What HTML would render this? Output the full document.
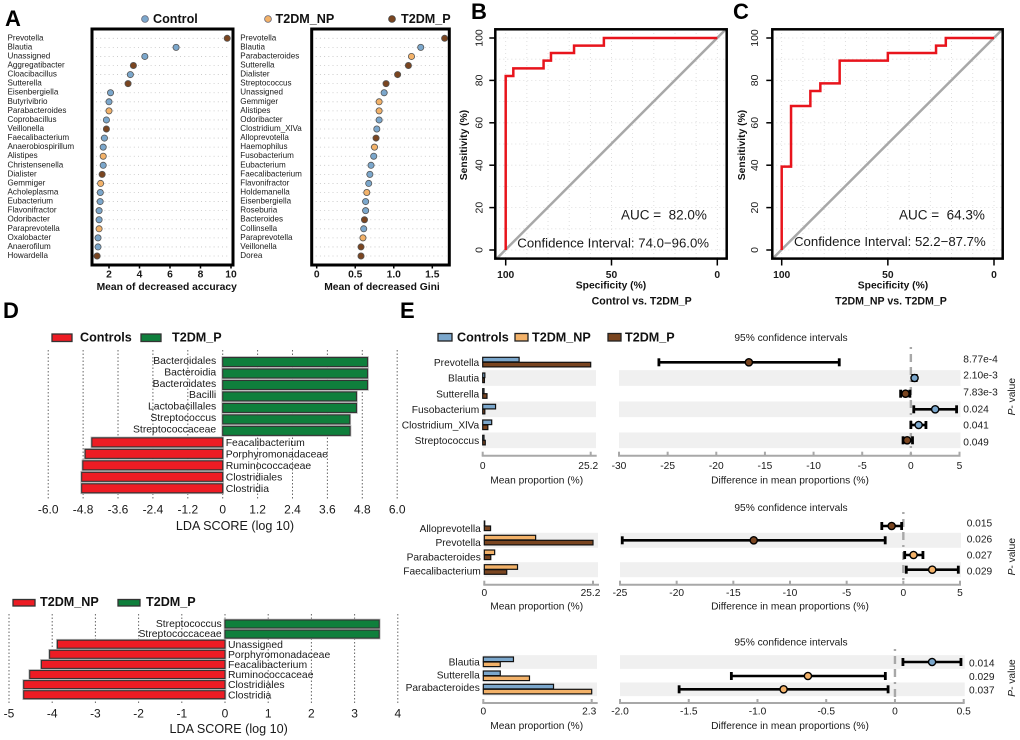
<!DOCTYPE html>
<html lang="en">
<head>
<meta charset="utf-8">
<title>Microbiome classification and differential abundance figure</title>
<style>
html,body{margin:0;padding:0;background:#fff;width:1020px;height:740px;overflow:hidden}
svg{display:block;filter:blur(0.3px)}
text{font-family:"Liberation Sans",Arial,sans-serif;fill:#1a1a1a}
.letter{font-size:22px;font-weight:bold;fill:#000}
.leg{font-size:12.6px;font-weight:bold;fill:#111}
.bt{font-size:10.3px;font-weight:bold;fill:#111}
.sm{font-size:10.2px;fill:#222}
</style>
</head>
<body>
<svg id="fig" xmlns="http://www.w3.org/2000/svg" width="1020" height="740" viewBox="0 0 1020 740">
  <rect x="0" y="0" width="1020" height="740" fill="#fff"/>
  <text class="letter" x="5" y="26">A</text>
  <text class="letter" x="471" y="19">B</text>
  <text class="letter" x="733" y="19">C</text>
  <text class="letter" x="3" y="318">D</text>
  <text class="letter" x="400" y="318">E</text>

  <g id="panel-a">
    <circle cx="145" cy="19" r="3.4" fill="#7ba7cc" stroke="#667" stroke-width="0.8"/>
    <text class="leg" x="153" y="23">Control</text>
    <circle cx="268" cy="19" r="3.4" fill="#f3b269" stroke="#667" stroke-width="0.8"/>
    <text class="leg" x="275.5" y="23">T2DM_NP</text>
    <circle cx="392" cy="19" r="3.4" fill="#7a4520" stroke="#444" stroke-width="0.8"/>
    <text class="leg" x="401" y="23">T2DM_P</text>
    <text class="bt" x="166.7" y="290" text-anchor="middle">Mean of decreased accuracy</text>
    <text class="bt" x="382" y="290" text-anchor="middle">Mean of decreased Gini</text>
  </g>

  <g id="panel-b">
    <text class="bt" transform="translate(467 145) rotate(-90)" text-anchor="middle">Sensitivity (%)</text>
    <text class="bt" x="611" y="288.5" text-anchor="middle">Specificity (%)</text>
    <text class="bt" style="font-size:10.6px" x="641.7" y="304.5" text-anchor="middle">Control vs. T2DM_P</text>
  </g>
  <g id="panel-c">
    <text class="bt" transform="translate(745 145) rotate(-90)" text-anchor="middle">Sensitivity (%)</text>
    <text class="bt" x="893" y="288.5" text-anchor="middle">Specificity (%)</text>
    <text class="bt" style="font-size:10.6px" x="891" y="304.5" text-anchor="middle">T2DM_NP vs. T2DM_P</text>
  </g>

  <g id="panel-d1">
    <rect x="52" y="334" width="20" height="7.5" fill="#ed1c24" stroke="#333" stroke-width="1.3"/>
    <text class="leg" x="80" y="341.5">Controls</text>
    <rect x="141" y="334" width="20" height="7.5" fill="#0f7f3c" stroke="#333" stroke-width="1.3"/>
    <text class="leg" x="172" y="341.5">T2DM_P</text>
    <text style="font-size:12.6px" x="235" y="530" text-anchor="middle">LDA SCORE (log 10)</text>
  </g>
  <g id="panel-d2">
    <rect x="13" y="599.5" width="22" height="6.5" fill="#ed1c24" stroke="#333" stroke-width="1.3"/>
    <text class="leg" x="40" y="606">T2DM_NP</text>
    <rect x="118" y="599.5" width="22" height="6.5" fill="#0f7f3c" stroke="#333" stroke-width="1.3"/>
    <text class="leg" x="146" y="606">T2DM_P</text>
    <text style="font-size:12.6px" x="228.7" y="733" text-anchor="middle">LDA SCORE (log 10)</text>
  </g>

  <g id="panel-e">
    <rect x="438" y="333.5" width="14" height="7.5" fill="#7ba7cc" stroke="#222" stroke-width="1.3"/>
    <text class="leg" x="457" y="341.5">Controls</text>
    <rect x="515" y="333.5" width="13" height="7.5" fill="#f3b269" stroke="#222" stroke-width="1.3"/>
    <text class="leg" x="532" y="341.5">T2DM_NP</text>
    <rect x="608" y="333.5" width="13" height="7.5" fill="#7a4520" stroke="#222" stroke-width="1.3"/>
    <text class="leg" x="625" y="341.5">T2DM_P</text>
  </g>
</svg>

<script>
/* ---------- Panel A data ---------- */
const accuracyGenera = ["Prevotella","Blautia","Unassigned","Aggregatibacter","Cloacibacillus","Sutterella","Eisenbergiella","Butyrivibrio","Parabacteroides","Coprobacillus","Veillonella","Faecalibacterium","Anaerobiospirillum","Alistipes","Christensenella","Dialister","Gemmiger","Acholeplasma","Eubacterium","Flavonifractor","Odoribacter","Paraprevotella","Oxalobacter","Anaerofilum","Howardella"];
const accuracyValues = [9.75,6.4,4.35,3.6,3.4,3.25,2.1,2.0,2.0,1.83,1.83,1.7,1.62,1.62,1.62,1.55,1.45,1.43,1.42,1.35,1.35,1.35,1.28,1.28,1.22];
const accuracyGroups = ["P","C","C","P","C","P","C","C","N","C","P","C","C","N","C","P","N","C","C","C","C","N","C","C","P"];
const accuracyTicks = [2,4,6,8,10];

const giniGenera = ["Prevotella","Blautia","Parabacteroides","Sutterella","Dialister","Streptococcus","Unassigned","Gemmiger","Alistipes","Odoribacter","Clostridium_XlVa","Alloprevotella","Haemophilus","Fusobacterium","Eubacterium","Faecalibacterium","Flavonifractor","Holdemanella","Eisenbergiella","Roseburia","Bacteroides","Collinsella","Paraprevotella","Veillonella","Dorea"];
const giniValues = [1.66,1.35,1.23,1.19,1.05,0.9,0.875,0.81,0.81,0.81,0.78,0.77,0.75,0.74,0.705,0.69,0.675,0.65,0.635,0.635,0.62,0.61,0.6,0.575,0.575];
const giniGroups = ["P","C","N","P","P","P","C","N","N","C","C","P","N","C","C","C","C","N","C","C","P","C","N","P","P"];
const giniTicks = [0,0.5,1.0,1.5];
const giniTickLabels = ["0","0.5","1.0","1.5"];

/* ---------- Panels B, C data ---------- */
const rocBSpecificity = [100,100,96.4,96.4,82.1,82.1,78.6,78.6,67.7,67.7,53.6,53.6,0];
const rocBSensitivity = [0,82.1,82.1,85.7,85.7,89.3,89.3,92.9,92.9,96.4,96.4,100,100];
const rocCSpecificity = [100,100,95.6,95.6,86.5,86.5,81.8,81.8,72.7,72.7,50,50,27.3,27.3,22.7,22.7,0];
const rocCSensitivity = [0,39.3,39.3,67.9,67.9,75,75,78.6,78.6,89.3,89.3,92.9,92.9,96.4,96.4,100,100];
const rocXTicks = [100,50,0];
const rocYTicks = [0,20,40,60,80,100];
const rocBAuc = "AUC =\u00a0 82.0%";
const rocBCi = "Confidence Interval: 74.0\u221296.0%";
const rocCAuc = "AUC =\u00a0 64.3%";
const rocCCi = "Confidence Interval: 52.2\u221287.7%";

/* ---------- Panel D data ---------- */
const ldaTopLabels = ["Bacteroidales","Bacteroidia","Bacteroidates","Bacilli","Lactobacillales","Streptococcus","Streptococcaceae","Feacalibacterium","Porphyromonadaceae","Ruminococcaceae","Clostridiales","Clostridia"];
const ldaTopValues = [4.98,4.98,4.98,4.6,4.6,4.37,4.38,-4.5,-4.73,-4.81,-4.85,-4.85];
const ldaTopTicks = [-6,-4.8,-3.6,-2.4,-1.2,0,1.2,2.4,3.6,4.8,6];
const ldaTopTickLabels = ["-6.0","-4.8","-3.6","-2.4","-1.2","0","1.2","2.4","3.6","4.8","6.0"];

const ldaBottomLabels = ["Streptococcus","Streptococcaceae","Unassigned","Porphyromonadaceae","Feacalibacterium","Ruminococcaceae","Clostridiales","Clostridia"];
const ldaBottomValues = [3.57,3.57,-3.88,-4.06,-4.25,-4.52,-4.66,-4.66];
const ldaBottomTicks = [-5,-4,-3,-2,-1,0,1,2,3,4];
const ldaBottomTickLabels = ["-5","-4","-3","-2","-1","0","1","2","3","4"];

/* ---------- Panel E data ---------- */
const e1Genera = ["Prevotella","Blautia","Sutterella","Fusobacterium","Clostridium_XlVa","Streptococcus"];
const e1First = [8.5,0.5,0.3,3.0,2.1,0.3];
const e1Second = [25.2,0.4,1.0,0.5,1.2,0.6];
const e1Mean = [-16.65,0.38,-0.55,2.5,0.8,-0.38];
const e1Low = [-25.9,0.2,-1.05,0.3,0,-0.8];
const e1High = [-7.36,0.55,-0.1,4.7,1.55,0.17];
const e1Group = ["P","C","P","C","C","P"];
const e1PValues = ["8.77e-4","2.10e-3","7.83e-3","0.024","0.041","0.049"];
const e1DiffTicks = [-30,-25,-20,-15,-10,-5,0,5];
const e1DiffLabels = ["-30","-25","-20","-15","-10","-5","0","5"];
const e1PropTicks = [0,25.2];

const e2Genera = ["Alloprevotella","Prevotella","Parabacteroides","Faecalibacterium"];
const e2First = [0.1,11.9,2.4,7.7];
const e2Second = [1.45,25.2,1.5,5.2];
const e2Mean = [-1.03,-13.2,0.9,2.55];
const e2Low = [-1.9,-24.8,0.12,0.26];
const e2High = [-0.15,-1.6,1.73,4.85];
const e2Group = ["P","P","N","N"];
const e2PValues = ["0.015","0.026","0.027","0.029"];
const e2DiffTicks = [-25,-20,-15,-10,-5,0,5];
const e2DiffLabels = ["-25","-20","-15","-10","-5","0","5"];
const e2PropTicks = [0,25.2];

const e3Genera = ["Blautia","Sutterella","Parabacteroides"];
const e3First = [0.64,0.36,1.49];
const e3Second = [0.36,0.98,2.3];
const e3Mean = [0.27,-0.633,-0.81];
const e3Low = [0.058,-1.19,-1.57];
const e3High = [0.48,-0.07,-0.05];
const e3Group = ["C","N","N"];
const e3PValues = ["0.014","0.029","0.037"];
const e3DiffTicks = [-2,-1.5,-1,-0.5,0,0.5];
const e3DiffLabels = ["-2.0","-1.5","-1.0","-0.5","0","0.5"];
const e3PropTicks = [0,2.3];

/* ---------- Helpers ---------- */
const NS = "http://www.w3.org/2000/svg";
const palette = { C: "#7ba7cc", N: "#f3b269", P: "#7a4520" };
const firstColors = { e1: "#7ba7cc", e2: "#f3b269", e3: "#7ba7cc" };
const secondColors = { e1: "#7a4520", e2: "#7a4520", e3: "#f3b269" };

function mk(parent, tag, attrs, txt) {
  const el = document.createElementNS(NS, tag);
  for (const k in attrs) el.setAttribute(k, attrs[k]);
  if (txt !== undefined) el.textContent = txt;
  parent.appendChild(el);
  return el;
}
function linear(d0, d1, r0, r1) {
  return v => r0 + (v - d0) * (r1 - r0) / (d1 - d0);
}
function group(parent) {
  return mk(parent, "g", {});
}

/* ---------- Panel A ---------- */
function drawDotPlot(genera, values, groups, ticks, tickLabels, fr, labelX, xs) {
  const root = document.getElementById("panel-a");
  const g = group(root);
  
  
  const ys = linear(0, genera.length - 1, 38.3, 256);
  genera.forEach((name, i) => {
    const y = ys(i);
    const guide = mk(g, "line", { x1: fr.x0 + 4, x2: fr.x1 - 3, y1: y, y2: y, stroke: "#c4c4c4", "stroke-width": 0.8, "stroke-dasharray": "1 3.2" });
    
    
    const lab = mk(g, "text", { x: labelX, y: y + 2, "font-size": "8.1px", fill: "#222" }, name);
    
    
    const dot = mk(g, "circle", { cx: xs(values[i]), cy: y, r: 3.1, fill: palette[groups[i]], stroke: "#555", "stroke-width": 0.8 });
    
    
  });
  const frame = mk(g, "rect", { x: fr.x0, y: fr.y0, width: fr.x1 - fr.x0, height: fr.y1 - fr.y0, fill: "none", stroke: "#000", "stroke-width": 3 });
  
  
  ticks.forEach((t, i) => {
    const x = xs(t);
    const tk = mk(g, "line", { x1: x, x2: x, y1: fr.y1, y2: fr.y1 + 3.5, stroke: "#000", "stroke-width": 1.5 });
    
    
    const tl = mk(g, "text", { x: x, y: 277.5, "text-anchor": "middle", "font-size": "10.3px", "font-weight": "bold", fill: "#111" }, tickLabels[i]);
    
    
  });
}
drawDotPlot(accuracyGenera, accuracyValues, accuracyGroups, accuracyTicks, accuracyTicks.map(String),
  { x0: 92, x1: 233, y0: 29, y1: 265, name: "accuracy-dot-plot" }, 7.5, linear(2, 10, 109, 231));
drawDotPlot(giniGenera, giniValues, giniGroups, giniTicks, giniTickLabels,
  { x0: 311.7, x1: 449.3, y0: 29, y1: 265, name: "gini-dot-plot" }, 240.3, linear(0, 1.5, 316.7, 432.3));

/* ---------- Panels B, C ---------- */
function drawRoc(id, spec, sens, auc, ci, geo) {
  const root = document.getElementById(id);
  const xs = linear(100, 0, geo.x100, geo.x0v);
  const ys = linear(0, 100, 250, 38);
  for (let v = 0; v <= 100; v += 10) {
    const h = mk(root, "line", { x1: geo.fx0, x2: geo.fx1, y1: ys(v), y2: ys(v), stroke: "#d8d8d8", "stroke-width": 0.8, "stroke-dasharray": "1 3" });
    
    
    const w = mk(root, "line", { x1: xs(v), x2: xs(v), y1: 29, y2: 258, stroke: "#d8d8d8", "stroke-width": 0.8, "stroke-dasharray": "1 3" });
    
    
  }
  const diag = mk(root, "line", { x1: xs(104.3), y1: ys(-4.1), x2: xs(-4.1), y2: ys(104.2), stroke: "#a8a8a8", "stroke-width": 2.5 });
  
  
  const path = mk(root, "polyline", { points: spec.map((s, i) => xs(s) + "," + ys(sens[i])).join(" "), fill: "none", stroke: "#e8141c", "stroke-width": 2.5 });
  
  
  const frame = mk(root, "rect", { x: geo.fx0, y: 29.3, width: geo.fx1 - geo.fx0, height: 229.3, fill: "none", stroke: "#000", "stroke-width": 2.5 });
  
  
  rocXTicks.forEach(t => {
    const tk = mk(root, "line", { x1: xs(t), x2: xs(t), y1: 258.7, y2: 265.5, stroke: "#000", "stroke-width": 1.5 });
    
    
    const tl = mk(root, "text", { x: xs(t), y: 278, "text-anchor": "middle", "font-size": "10.3px", "font-weight": "bold", fill: "#111" }, String(t));
    
    
  });
  rocYTicks.forEach(t => {
    const tk = mk(root, "line", { x1: geo.fx0 - 6, x2: geo.fx0, y1: ys(t), y2: ys(t), stroke: "#000", "stroke-width": 1.5 });
    
    
    const tl = mk(root, "text", { transform: "translate(" + geo.ylabX + " " + ys(t) + ") rotate(-90)", "text-anchor": "middle", "font-size": "10.5px", fill: "#111" }, String(t));
    
    
  });
  const a = mk(root, "text", { x: geo.aucX, y: 219.5, "font-size": "13.5px", fill: "#222" }, auc);
  
  
  const c = mk(root, "text", { x: geo.ciX, y: geo.ciY, "font-size": "13.2px", fill: "#222" }, ci);
  
  
}
drawRoc("panel-b", rocBSpecificity, rocBSensitivity, rocBAuc, rocBCi,
  { x100: 505.7, x0v: 717.3, fx0: 495.3, fx1: 726.7, ylabX: 482.7, aucX: 621, ciX: 517.3, ciY: 247.5 });
drawRoc("panel-c", rocCSpecificity, rocCSensitivity, rocCAuc, rocCCi,
  { x100: 781.7, x0v: 994, fx0: 772.3, fx1: 1002.7, ylabX: 758, aucX: 899, ciX: 794, ciY: 246 });

/* ---------- Panel D ---------- */
function drawLda(id, labels, values, ticks, tickLabels, geo) {
  const root = document.getElementById(id);
  const xs = linear(0, 1, geo.zero, geo.zero + geo.unit);
  const ys = linear(0, labels.length - 1, geo.firstY, geo.lastY);
  ticks.forEach((t, i) => {
    const gl = mk(root, "line", { x1: xs(t), x2: xs(t), y1: geo.top, y2: geo.bottom, stroke: "#666", "stroke-width": 1, "stroke-dasharray": "1.5 2" });
    
    
    const tl = mk(root, "text", { x: xs(t), y: geo.tickY, "text-anchor": "middle", "font-size": "12px", fill: "#1a1a1a" }, tickLabels[i]);
    
    
  });
  labels.forEach((name, i) => {
    const v = values[i];
    const y = ys(i);
    const x = v >= 0 ? xs(0) : xs(v);
    const w = Math.abs(xs(v) - xs(0));
    const halo = mk(root, "rect", { x: x - 0.8, y: y - geo.h / 2 - 0.8, width: w + 1.6, height: geo.h + 1.6, fill: "none", stroke: "#bbb", "stroke-width": 1 });
    
    
    const bar = mk(root, "rect", { x: x, y: y - geo.h / 2, width: w, height: geo.h, fill: v >= 0 ? "#0f7f3c" : "#ed1c24", stroke: "#333", "stroke-width": 1.1 });
    
    
    const lab = mk(root, "text", { x: v >= 0 ? xs(0) - geo.labGap : xs(0) + 3, y: y + (v >= 0 ? geo.labDyPos : geo.labDyNeg), "text-anchor": v >= 0 ? "end" : "start", "font-size": "10.4px", fill: "#222" }, name);
    
    
  });
}
drawLda("panel-d1", ldaTopLabels, ldaTopValues, ldaTopTicks, ldaTopTickLabels,
  { zero: 222.7, unit: 29.08, firstY: 362, lastY: 488.3, top: 350, bottom: 500, tickY: 513.5, h: 9, labGap: 6.5, labDyPos: 1.8, labDyNeg: 3.6 });
drawLda("panel-d2", ldaBottomLabels, ldaBottomValues, ldaBottomTicks, ldaBottomTickLabels,
  { zero: 225, unit: 43.2, firstY: 624, lastY: 694.7, top: 614, bottom: 704, tickY: 717.5, h: 8, labGap: 3.3, labDyPos: 3, labDyNeg: 3.6 });

/* ---------- Panel E ---------- */
function drawEBlock(key, genera, first, second, mean, low, high, grp, pvals, diffTicks, diffLabels, propTicks, geo) {
  const root = document.getElementById("panel-e");
  const g = group(root);
  
  
  const px = linear(0, propTicks[1], geo.p0, geo.p1);
  const dx = linear(diffTicks[0], diffTicks[diffTicks.length - 1], geo.d0, geo.d1);
  genera.forEach((name, i) => {
    const cy = geo.rows[i];
    if ((i % 2 === 1) === geo.bandOdd) {
      const b1 = mk(g, "rect", { x: geo.p0, y: cy - geo.band / 2, width: geo.bandP1 - geo.p0, height: geo.band, fill: "#f0f0f0" });
      
      
      const b2 = mk(g, "rect", { x: geo.d0, y: cy - geo.band / 2, width: geo.d1 - geo.d0 + 1, height: geo.band, fill: "#f0f0f0" });
      
      
    }
  });
  const zeroLine = mk(g, "line", { x1: dx(0), x2: dx(0), y1: geo.zeroTop, y2: geo.axisY, stroke: "#a8a8a8", "stroke-width": 2.4, "stroke-dasharray": "2 5 8 5 8 5" });
  
  
  genera.forEach((name, i) => {
    const cy = geo.rows[i];
    const lab = mk(g, "text", { x: geo.p0 - 3.5, y: geo.labels[i] + 3.6, "text-anchor": "end", "font-size": "10.2px", fill: "#222" }, name);
    
    
    const bA = mk(g, "rect", { x: px(0), y: cy - 5, width: px(first[i]) - px(0), height: 4.6, fill: firstColors[key], stroke: "#111", "stroke-width": 1.2 });
    
    
    const bB = mk(g, "rect", { x: px(0), y: cy, width: px(second[i]) - px(0), height: 4.6, fill: secondColors[key], stroke: "#111", "stroke-width": 1.2 });
    
    
    const ci = mk(g, "line", { x1: dx(low[i]), x2: dx(high[i]), y1: cy, y2: cy, stroke: "#000", "stroke-width": 2.6 });
    
    
    const capL = mk(g, "line", { x1: dx(low[i]), x2: dx(low[i]), y1: cy - 4, y2: cy + 4, stroke: "#000", "stroke-width": 2.8 });
    
    
    const capH = mk(g, "line", { x1: dx(high[i]), x2: dx(high[i]), y1: cy - 4, y2: cy + 4, stroke: "#000", "stroke-width": 2.8 });
    
    
    const dot = mk(g, "circle", { cx: dx(mean[i]), cy: cy, r: 3.6, fill: palette[grp[i]], stroke: "#000", "stroke-width": 1.4 });
    
    
    const pv = mk(g, "text", { x: geo.pX, y: geo.pY[i] + 3.6, "font-size": "10.2px", fill: "#222" }, pvals[i]);
    
    
  });
  const axA = mk(g, "line", { x1: geo.p0 - 1, x2: geo.p1 + 6, y1: geo.axisY, y2: geo.axisY, stroke: "#a8a8a8", "stroke-width": 2 });
  
  
  const axB = mk(g, "line", { x1: geo.d0 - 1, x2: geo.d1 + 1, y1: geo.axisY, y2: geo.axisY, stroke: "#a8a8a8", "stroke-width": 2 });
  
  
  propTicks.forEach((t, i) => {
    const tk = mk(g, "line", { x1: px(t), x2: px(t), y1: geo.axisY - 4, y2: geo.axisY, stroke: "#a8a8a8", "stroke-width": 2 });
    
    
    const tl = mk(g, "text", { x: i === 0 ? px(t) : px(t) - 2.5, y: geo.tickY, "text-anchor": "middle", "font-size": "10.2px", fill: "#222" }, String(t));
    
    
  });
  diffTicks.forEach((t, i) => {
    const tk = mk(g, "line", { x1: dx(t), x2: dx(t), y1: geo.axisY - 4, y2: geo.axisY, stroke: "#a8a8a8", "stroke-width": 2 });
    
    
    const tl = mk(g, "text", { x: dx(t), y: geo.tickY, "text-anchor": "middle", "font-size": "10.2px", fill: "#222" }, diffLabels[i]);
    
    
  });
  const t1 = mk(g, "text", { x: 536.7, y: geo.titleY, "text-anchor": "middle", "font-size": "10.2px", fill: "#222" }, "Mean proportion (%)");
  
  
  const t2 = mk(g, "text", { x: 790, y: geo.titleY, "text-anchor": "middle", "font-size": "10.2px", fill: "#222" }, "Difference in mean proportions (%)");
  
  
  const t3 = mk(g, "text", { x: 791, y: geo.ciTitleY, "text-anchor": "middle", "font-size": "10.2px", fill: "#222" }, "95% confidence intervals");
  
  
  const pt = mk(g, "text", { transform: "translate(1015 " + geo.pTitleY + ") rotate(-90)", "text-anchor": "middle", "font-size": "10.2px", fill: "#222" });
  
  
  const it = mk(pt, "tspan", { "font-style": "italic" }, "P");
  
  
  pt.appendChild(document.createTextNode("- value"));
}
drawEBlock("e1", e1Genera, e1First, e1Second, e1Mean, e1Low, e1High, e1Group, e1PValues, e1DiffTicks, e1DiffLabels, e1PropTicks,
  { p0: 482.7, p1: 590.7, bandP1: 596, d0: 619, d1: 959.5, axisY: 455.7, zeroTop: 347, band: 15.7, bandOdd: true,
    rows: [362.3, 378, 393.7, 409.3, 425, 440.3], labels: [362.3, 378, 393.7, 409.3, 425, 440.3],
    pX: 963.3, pY: [359, 375, 391.7, 408.7, 425, 441.7], tickY: 469, titleY: 483.5, ciTitleY: 341, pTitleY: 396.7 });
drawEBlock("e2", e2Genera, e2First, e2Second, e2Mean, e2Low, e2High, e2Group, e2PValues, e2DiffTicks, e2DiffLabels, e2PropTicks,
  { p0: 484.3, p1: 593, bandP1: 598, d0: 620, d1: 960, axisY: 584.7, zeroTop: 512, band: 15, bandOdd: true,
    rows: [526, 540.3, 555, 569.7], labels: [528.3, 542.3, 556.7, 571],
    pX: 966.7, pY: [522.7, 538.7, 554.7, 570.7], tickY: 596, titleY: 609.5, ciTitleY: 511, pTitleY: 556.7 });
drawEBlock("e3", e3Genera, e3First, e3Second, e3Mean, e3Low, e3High, e3Group, e3PValues, e3DiffTicks, e3DiffLabels, e3PropTicks,
  { p0: 483.3, p1: 591.7, bandP1: 597, d0: 620, d1: 963.7, axisY: 703, zeroTop: 649, band: 13.7, bandOdd: false,
    rows: [662, 676, 689.3], labels: [662, 674.7, 687.3],
    pX: 969, pY: [663, 676.3, 689.7], tickY: 714.5, titleY: 729, ciTitleY: 645.5, pTitleY: 678 });
</script>
</body>
</html>
